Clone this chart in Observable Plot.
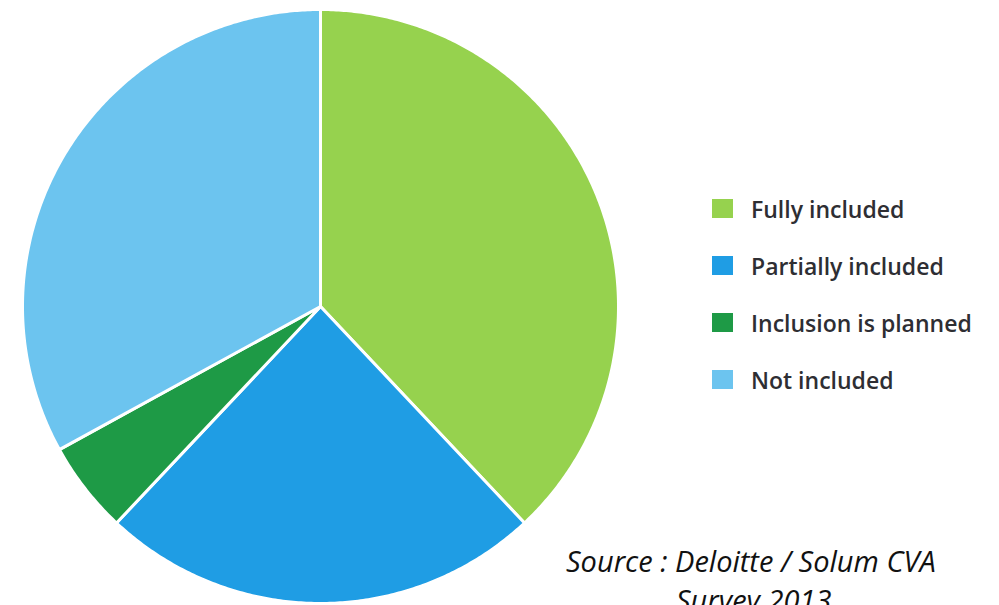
<!DOCTYPE html>
<html>
<head>
<meta charset="utf-8">
<script src="https://cdn.jsdelivr.net/npm/d3@7"></script>
<script src="https://cdn.jsdelivr.net/npm/@observablehq/plot@0.6"></script>
<style>
  html, body { margin: 0; padding: 0; background: #fff; }
  #wrap { position: relative; width: 999px; height: 605px; overflow: hidden; }
  #chart { position: absolute; left: 0; top: 0; }
  .legend { position: absolute; left: 712px; top: 199px; font-family: "Open Sans", sans-serif; font-weight: 600; font-size: 23px; color: #2e2e33; }
  .item { display: flex; align-items: center; height: 57px; margin-top: 0; }
  .item:first-child { margin-top: -19px; }
  .sw { width: 21px; height: 19px; margin-right: 18px; flex: none; }
  .src { position: absolute; font-family: "Open Sans", sans-serif; font-style: italic; font-size: 29px; color: #111; white-space: nowrap; }
</style>
</head>
<body>
<div id="wrap">
  <div id="chart"></div>
  <div class="legend" id="legend"></div>
  <div class="src" id="src1" style="left:566px; top:541px;"></div>
  <div class="src" id="src2" style="left:676px; top:580px;"></div>
</div>
<script>
const categories = ["Fully included", "Partially included", "Inclusion is planned", "Not included"];
const values = [38, 24, 5, 33];
const colors = ["#96d24e", "#1f9de4", "#1e9a46", "#6cc4ef"];
const sourceLines = ["Source : Deloitte / Solum CVA", "Survey 2013"];

const arcs = d3.pie().sort(null).value(d => d)(values);
const pts = [];
arcs.forEach((a, i) => {
  const cat = categories[i];
  pts.push({cat, x: 0, y: 0});
  const n = Math.max(2, Math.ceil((a.endAngle - a.startAngle) / (Math.PI / 360)));
  for (let k = 0; k <= n; k++) {
    const t = a.startAngle + (a.endAngle - a.startAngle) * k / n;
    pts.push({cat, x: Math.sin(t), y: Math.cos(t)});
  }
  pts.push({cat, x: 0, y: 0});
});

const chart = Plot.plot({
  width: 999,
  height: 605,
  marginLeft: 22,
  marginRight: 381,
  marginTop: 9,
  marginBottom: 2,
  x: {domain: [-1, 1], axis: null},
  y: {domain: [-1, 1], axis: null},
  color: {domain: categories, range: colors},
  marks: [
    Plot.line(pts, {x: "x", y: "y", z: "cat", fill: "cat", stroke: "white", strokeWidth: 3, strokeLinejoin: "round", curve: "linear"})
  ]
});
document.getElementById("chart").appendChild(chart);

const leg = document.getElementById("legend");
categories.forEach((c, i) => {
  const it = document.createElement("div");
  it.className = "item";
  const sw = document.createElement("div");
  sw.className = "sw";
  sw.style.background = colors[i];
  const tx = document.createElement("span");
  tx.textContent = c;
  it.appendChild(sw);
  it.appendChild(tx);
  leg.appendChild(it);
});
document.getElementById("src1").textContent = sourceLines[0];
document.getElementById("src2").textContent = sourceLines[1];
</script>
</body>
</html>
